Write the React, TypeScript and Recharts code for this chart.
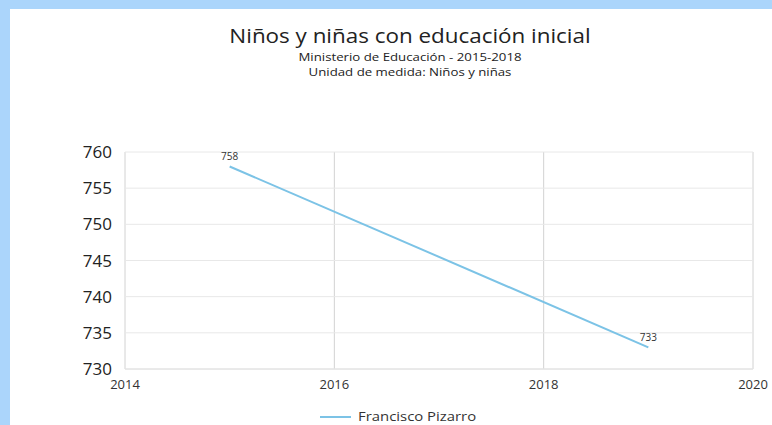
import React from "react";
import { LineChart, Line, XAxis, YAxis, CartesianGrid, LabelList } from "recharts";

const years = [2015, 2019];
const values = [758, 733];
const seriesName = "Francisco Pizarro";
const xTicks = [2014, 2016, 2018, 2020];
const yTicks = [730, 735, 740, 745, 750, 755, 760];

const data = years.map((y, i) => ({ year: y, value: values[i] }));

const FONT = "'Open Sans', sans-serif";
const LINE_COLOR = "#7cc3e6";

const LegendContent = () => (
  <div style={{ display: "flex", alignItems: "center", fontFamily: FONT, fontSize: 12, lineHeight: "13px", color: "#333" }}>
    <svg width={31} height={4} style={{ marginRight: 7 }}>
      <line x1={0} y1={2} x2={31} y2={2} stroke={LINE_COLOR} strokeWidth={2} />
    </svg>
    <span style={{ display: "inline-block", transform: "scaleX(1.24)", transformOrigin: "left center" }}>{seriesName}</span>
  </div>
);

const App = () => {
  return (
    <div style={{ position: "fixed", left: 0, top: 0, width: 772, height: 425, background: "#abd5fb", overflow: "hidden" }}>
      <div style={{ position: "absolute", left: 10, top: 9, right: 0, bottom: 0, background: "#fff" }} />
      {/* titles */}
      <div style={{ position: "absolute", left: 0, width: 820, top: 23, textAlign: "center", fontFamily: FONT, color: "#222" }}>
        <div style={{ fontSize: 20, lineHeight: "26px", transform: "scaleX(1.12)" }}>Niños y niñas con educación inicial</div>
        <div style={{ fontSize: 11.5, lineHeight: "15px", transform: "scaleX(1.15)" }}>Ministerio de Educación - 2015-2018</div>
        <div style={{ fontSize: 11.5, lineHeight: "15px", transform: "scaleX(1.15)" }}>Unidad de medida: Niños y niñas</div>
      </div>
      <div style={{ position: "absolute", left: 0, top: 0 }}>
        <LineChart width={772} height={425} data={data} margin={{ top: 152, right: 19, bottom: 26, left: 0 }}>
          <CartesianGrid horizontal={false} stroke="#d2d2d2" />
          <CartesianGrid vertical={false} stroke="#e8e8e8" />
          <XAxis
            dataKey="year"
            type="number"
            domain={[2014, 2020]}
            ticks={xTicks}
            tickLine={false}
            axisLine={{ stroke: "#e0e0e0" }}
            tick={{ fontFamily: FONT, fontSize: 13, fill: "#333" }}
            tickMargin={5}
          />
          <YAxis
            domain={[730, 760]}
            ticks={yTicks}
            width={125}
            tickLine={false}
            axisLine={false}
            tickMargin={7}
            tick={{ fontFamily: FONT, fontSize: 17, fill: "#222" }}
          />
          <Line
            type="linear"
            dataKey="value"
            name={seriesName}
            stroke={LINE_COLOR}
            strokeWidth={2}
            dot={false}
            isAnimationActive={false}
          >
            <LabelList dataKey="value" position="top" offset={6} style={{ fontFamily: FONT, fontSize: 10, fill: "#333" }} />
          </Line>
        </LineChart>
      </div>
      <div style={{ position: "absolute", left: 320, top: 410 }}>
        <LegendContent />
      </div>
    </div>
  );
};

export default App;
